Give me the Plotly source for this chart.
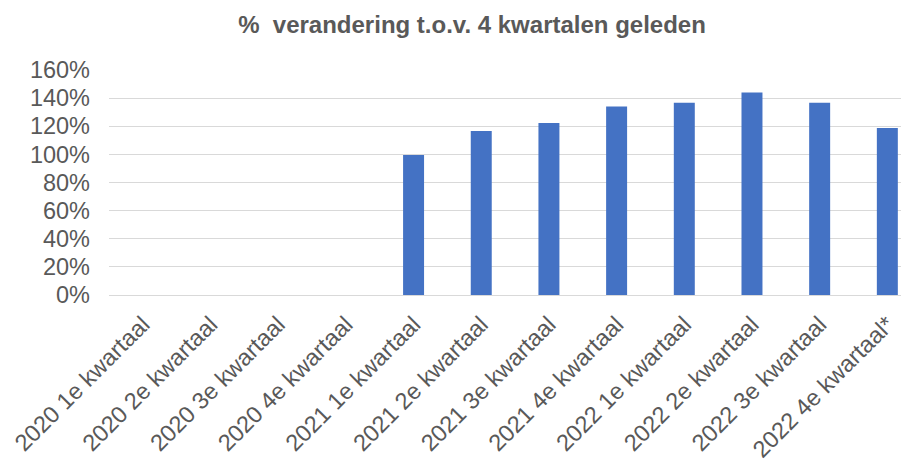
import plotly.graph_objects as go

categories = ["2020 1e kwartaal", "2020 2e kwartaal", "2020 3e kwartaal", "2020 4e kwartaal",
              "2021 1e kwartaal", "2021 2e kwartaal", "2021 3e kwartaal", "2021 4e kwartaal",
              "2022 1e kwartaal", "2022 2e kwartaal", "2022 3e kwartaal", "2022 4e kwartaal*"]
values = [None, None, None, None, 0.995, 1.167, 1.224, 1.341, 1.367, 1.440, 1.367, 1.188]
y_ticks = [0, 0.2, 0.4, 0.6, 0.8, 1.0, 1.2, 1.4, 1.6]
y_tick_labels = ["0%", "20%", "40%", "60%", "80%", "100%", "120%", "140%", "160%"]
title_text = "%  verandering t.o.v. 4 kwartalen geleden"

grey = "#595959"

fig = go.Figure(go.Bar(
    x=list(range(len(categories))), y=values,
    marker=dict(color="#4472C4", line=dict(width=0)),
    width=0.31,
))

fig.update_layout(
    width=901, height=452,
    margin=dict(l=101, r=0, t=62, b=165, autoexpand=False),
    paper_bgcolor="white", plot_bgcolor="white",
    showlegend=False,
    font=dict(family="Liberation Sans, Arial, sans-serif", color=grey, size=23),
    title=dict(text="<b>" + title_text + "</b>", x=0.515, xanchor="center",
               y=0.963, yanchor="middle",
               font=dict(family="Liberation Sans, Arial", size=24, color=grey)),
)
fig.update_xaxes(
    tickmode="array", tickvals=list(range(len(categories))), ticktext=categories,
    range=[-0.5, 11.32], tickangle=-45, showgrid=False, zeroline=False,
    showline=False, ticks="", ticklabelstandoff=10, automargin=False,
    tickfont=dict(size=23.5, color=grey),
)
fig.update_yaxes(
    range=[0, 1.6], tickmode="array", tickvals=y_ticks, ticktext=y_tick_labels,
    showgrid=True, gridcolor="#d9d9d9", gridwidth=1, zeroline=True,
    zerolinecolor="#d9d9d9", zerolinewidth=1, showline=False, ticks="",
    ticklabelstandoff=18, automargin=False, tickfont=dict(size=23.5, color=grey),
)

fig.write_html("out.html")
